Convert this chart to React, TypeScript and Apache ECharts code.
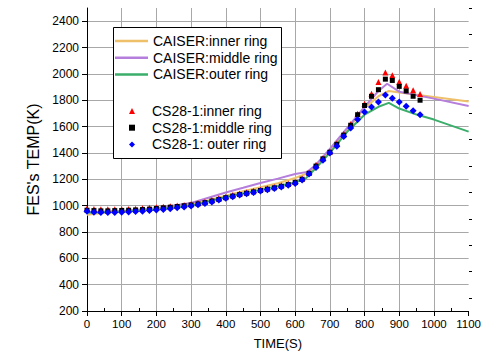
import React, { useEffect, useRef } from "react";
import * as echarts from "echarts";

// CAISER lines: time (s) and temperature (K)
const orangeT = [0, 50, 100, 150, 200, 250, 300, 350, 400, 450, 500, 550, 600, 630, 660, 700, 750, 800, 840, 870, 900, 1000, 1100];
const orangeV = [930, 945, 955, 963, 975, 990, 1010, 1040, 1075, 1110, 1140, 1170, 1210, 1240, 1300, 1420, 1575, 1740, 1830, 1870, 1858, 1825, 1790];

const purpleT = [0, 50, 100, 200, 300, 350, 400, 450, 500, 550, 600, 635, 660, 700, 750, 800, 840, 865, 900, 1000, 1100];
const purpleV = [950, 955, 960, 980, 1020, 1060, 1100, 1135, 1172, 1205, 1240, 1256, 1310, 1430, 1590, 1750, 1870, 1925, 1865, 1812, 1756];

const greenT = [0, 100, 200, 300, 400, 500, 600, 630, 660, 700, 750, 800, 840, 870, 900, 950, 1000, 1100];
const greenV = [945, 955, 970, 1000, 1065, 1120, 1175, 1205, 1285, 1400, 1560, 1690, 1750, 1780, 1737, 1691, 1653, 1562];

// CS28-1 markers
const sampleT = [0, 20, 40, 60, 80, 100, 120, 140, 160, 180, 200, 220, 240, 260, 280, 300, 320, 340, 360, 380, 400, 420, 440, 460, 480, 500, 520, 540, 560, 580, 600, 620, 640, 660, 680, 700, 720, 740, 760, 780, 800, 820, 840, 860, 880, 900, 920, 940, 960];
const redV = [978, 975, 972, 972, 973, 975, 975, 977, 980, 983, 988, 992, 996, 1000, 1005, 1012, 1020, 1030, 1042, 1055, 1068, 1080, 1092, 1102, 1112, 1122, 1132, 1142, 1155, 1168, 1182, 1205, 1250, 1310, 1360, 1410, 1471, 1545, 1620, 1698, 1774, 1850, 1938, 2010, 1990, 1940, 1910, 1875, 1848];
const blackV = [965, 962, 960, 960, 962, 963, 965, 967, 970, 973, 978, 983, 988, 993, 999, 1005, 1013, 1023, 1035, 1047, 1060, 1072, 1084, 1094, 1104, 1115, 1125, 1135, 1147, 1160, 1175, 1200, 1245, 1300, 1355, 1405, 1465, 1535, 1610, 1690, 1760, 1830, 1880, 1960, 1950, 1905, 1870, 1830, 1800];
const blueV = [958, 950, 948, 947, 948, 950, 952, 955, 958, 962, 966, 971, 977, 983, 990, 997, 1006, 1016, 1028, 1042, 1056, 1068, 1080, 1090, 1100, 1110, 1120, 1130, 1142, 1155, 1168, 1195, 1240, 1290, 1345, 1400, 1451, 1525, 1590, 1653, 1711, 1749, 1786, 1840, 1815, 1787, 1755, 1720, 1690];

const lineNames = ["CAISER:inner ring", "CAISER:middle ring", "CAISER:outer ring"];
const markerNames = ["CS28-1:inner ring", "CS28-1:middle ring", "CS28-1: outer ring"];
const markerSymbols = ["triangle", "rect", "diamond"];

const xMinorTicks = [50, 150, 250, 350, 450, 550, 650, 750, 850, 950, 1050];
const yMinorTicks = [300, 500, 700, 900, 1100, 1300, 1500, 1700, 1900, 2100, 2300, 2500];

const FONT = "'Liberation Sans', Arial, sans-serif";

const zip = (t: number[], v: number[]) => t.map((x, i) => [x, v[i]]);

export default function App() {
  const ref = useRef<HTMLDivElement>(null);
  useEffect(() => {
    if (!ref.current) return;
    const chart = echarts.init(ref.current, null, { renderer: "svg" });
    const lineSeries = (name: string, t: number[], v: number[], color: string) => ({
      name,
      type: "line",
      data: zip(t, v),
      symbol: "none",
      showSymbol: false,
      z: 1,
      lineStyle: { color, width: 2 },
      itemStyle: { color },
    });
    const scatterSeries = (name: string, v: number[], color: string, symbol: string, size: number) => ({
      name,
      type: "scatter",
      data: zip(sampleT, v),
      symbol,
      symbolSize: size,
      z: 3,
      itemStyle: { color, opacity: 1 },
    });
    chart.setOption({
      animation: false,
      backgroundColor: "#fff",
      textStyle: { fontFamily: FONT },
      grid: { left: 87, right: 15, top: 8, bottom: 46, containLabel: false },
      xAxis: [
        {
          type: "value",
          min: 0,
          max: 1100,
          interval: 100,
          name: "TIME(S)",
          nameLocation: "middle",
          nameGap: 26,
          nameTextStyle: { color: "#000", fontSize: 13, fontFamily: FONT },
          axisLine: { lineStyle: { color: "#000", width: 1 } },
          axisTick: { show: true, inside: false, length: 5, lineStyle: { color: "#000" } },
          axisLabel: { color: "#000", fontSize: 11.5, margin: 7, fontFamily: FONT, formatter: (v: number) => String(v) },
          splitLine: { show: true, showMinLine: false, showMaxLine: false, lineStyle: { color: "#a8a8a8", width: 1 } },
        },
        {
          type: "value",
          min: 0,
          max: 1100,
          position: "top",
          offset: -303,
          axisLine: { show: false },
          axisTick: { show: true, inside: false, length: 3, customValues: xMinorTicks, lineStyle: { color: "#000" } },
          axisLabel: { show: false },
          splitLine: { show: false },
        },
      ],
      yAxis: [
        {
          type: "value",
          min: 200,
          max: 2500,
          interval: 200,
          name: "FES's TEMP(K)",
          nameLocation: "middle",
          nameGap: 43,
          nameTextStyle: { color: "#000", fontSize: 16, fontFamily: FONT },
          axisLine: { show: true, lineStyle: { color: "#000", width: 1 } },
          axisTick: { show: true, inside: false, length: 5, lineStyle: { color: "#000" } },
          axisLabel: { color: "#000", fontSize: 12, margin: 8, showMaxLabel: false, fontFamily: FONT, formatter: (v: number) => String(v) },
          splitLine: { show: true, showMinLine: false, showMaxLine: false, lineStyle: { color: "#a8a8a8", width: 1 } },
        },
        {
          type: "value",
          min: 200,
          max: 2500,
          position: "right",
          offset: -382,
          axisLine: { show: false },
          axisTick: { show: true, inside: false, length: 3, customValues: yMinorTicks, lineStyle: { color: "#000" } },
          axisLabel: { show: false },
          splitLine: { show: false },
        },
      ],
      graphic: [
        {
          type: "rect",
          z: 5,
          shape: { x: 113.5, y: 27.5, width: 168, height: 131 },
          style: { fill: "#fff", stroke: "#000", lineWidth: 1 },
        },
      ],
      legend: [
        {
          z: 10,
          orient: "vertical",
          left: 115,
          top: 34,
          itemWidth: 33,
          itemHeight: 2.5,
          itemGap: 2.7,
          padding: 0,
          data: lineNames.map((n) => ({ name: n, icon: "rect" })),
          textStyle: { color: "#000", fontSize: 14, fontFamily: FONT },
        },
        {
          z: 10,
          orient: "vertical",
          left: 129,
          top: 104,
          itemWidth: 6,
          itemHeight: 6,
          itemGap: 2.7,
          padding: 0,
          data: markerNames.map((n, i) => ({ name: n, icon: markerSymbols[i] })),
          textStyle: { color: "#000", fontSize: 14, fontFamily: FONT, padding: [0, 0, 0, 12] },
        },
      ],
      series: [
        lineSeries(lineNames[0], orangeT, orangeV, "#EEC06A"),
        lineSeries(lineNames[1], purpleT, purpleV, "#B57EDC"),
        lineSeries(lineNames[2], greenT, greenV, "#3AAE6A"),
        scatterSeries(markerNames[0], redV, "#FF0000", "triangle", 6),
        scatterSeries(markerNames[1], blackV, "#000000", "rect", 5),
        scatterSeries(markerNames[2], blueV, "#0000FF", "diamond", 7),
      ],
    });
    return () => chart.dispose();
  }, []);
  return <div ref={ref} style={{ position: "fixed", left: 0, top: 0, width: 484, height: 357 }} />;
}
